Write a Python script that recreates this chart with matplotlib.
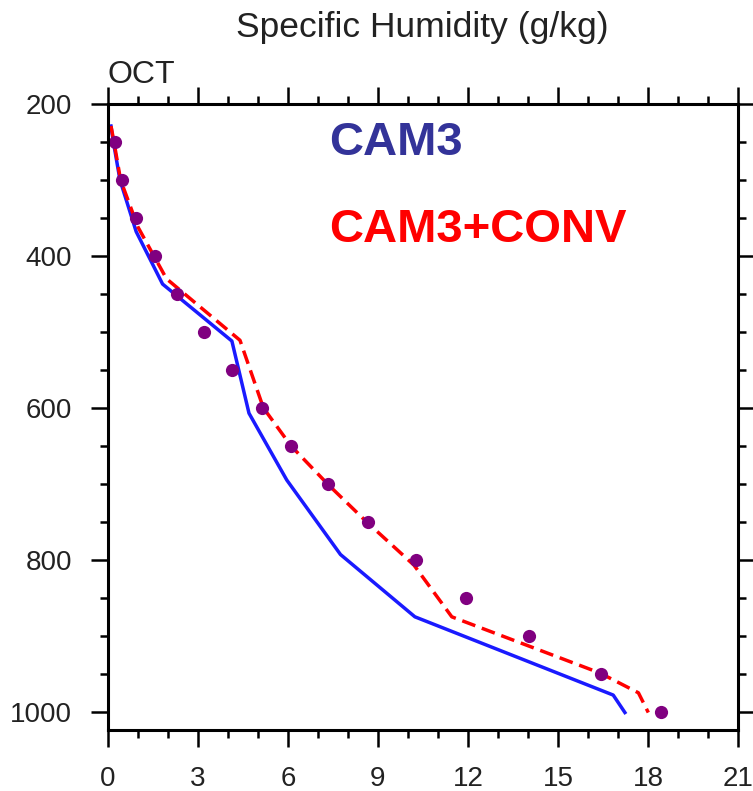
import numpy as np
import matplotlib
matplotlib.use("Agg")
import matplotlib.pyplot as plt
from matplotlib.ticker import MultipleLocator

plt.rcParams['font.family'] = ['Liberation Sans', 'DejaVu Sans']

# observaciones (puntos)
obs_p = [250, 300, 350, 400, 450, 500, 550, 600, 650, 700, 750, 800, 850, 900, 950, 1000]
obs_q = [0.25, 0.47, 0.95, 1.58, 2.3, 3.2, 4.15, 5.12, 6.1, 7.32, 8.66, 10.27, 11.93, 14.04, 16.43, 18.43]

# CAM3
cam3_p = [229, 250, 300, 368, 437, 512, 607, 695, 793, 875, 978, 1001]
cam3_q = [0.1, 0.18, 0.4, 0.94, 1.82, 4.13, 4.7, 5.96, 7.75, 10.23, 16.84, 17.23]

# CAM3+CONV
conv_p = [229, 250, 300, 362, 430, 511, 600, 650, 701, 750, 807, 875, 949, 975, 1001]
conv_q = [0.1, 0.2, 0.42, 1.0, 1.95, 4.4, 5.18, 6.1, 7.34, 8.62, 10.2, 11.46, 16.4, 17.68, 18.01]

xticks = [0, 3, 6, 9, 12, 15, 18, 21]
yticks = [200, 400, 600, 800, 1000]

fig = plt.figure(figsize=(7.53, 7.91), dpi=100)
ax = fig.add_axes([0.1434, 0.0771, 0.8367, 0.7914])

ax.plot(cam3_q, cam3_p, color='#1a1aff', lw=2.5, solid_joinstyle='round')
ax.plot(conv_q, conv_p, color='#ff0000', lw=2.5, dashes=(4, 2))
ax.plot(obs_q, obs_p, 'o', color='#800080', ms=9.5, mec='none')

ax.set_xlim(0, 21)
ax.set_ylim(1024, 200)
ax.set_xticks(xticks)
ax.set_yticks(yticks)
ax.xaxis.set_minor_locator(MultipleLocator(1))
ax.yaxis.set_minor_locator(MultipleLocator(50))

ax.tick_params(which='both', direction='out', top=True, right=True, width=1.8, colors='black',
               labelsize=20, labelcolor='#222222')
ax.tick_params(which='major', length=12)
ax.tick_params(which='minor', length=6)
ax.tick_params(axis='x', which='major', pad=14)
ax.tick_params(axis='y', which='major', pad=14)
for s in ax.spines.values():
    s.set_linewidth(2.2)

ax.text(0.351, 0.918, 'CAM3', transform=ax.transAxes, color='#333399', fontsize=34, fontweight='bold')
ax.text(0.351, 0.780, 'CAM3+CONV', transform=ax.transAxes, color='#ff0000', fontsize=34, fontweight='bold')

fig.text(0.5603, 0.953, 'Specific Humidity (g/kg)', ha='center', va='baseline', fontsize=25.5, color='#222222')
ax.text(0.0, 1.0335, 'OCT', transform=ax.transAxes, ha='left', va='baseline', fontsize=23, color='#222222')

fig.savefig('out.png', dpi=100)
